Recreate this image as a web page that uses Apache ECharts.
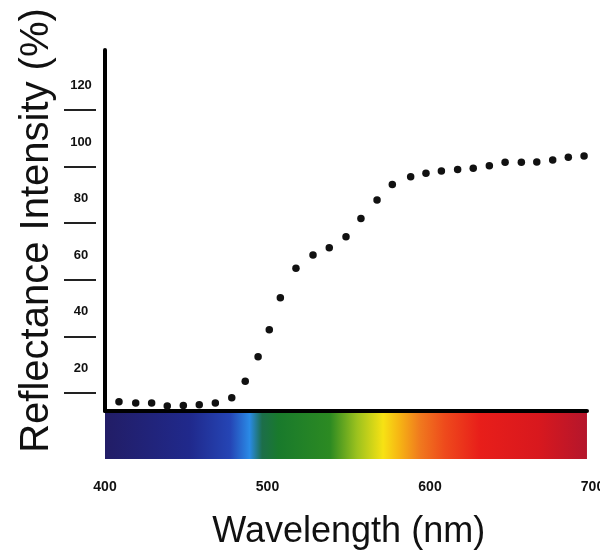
<!DOCTYPE html>
<html>
<head>
<meta charset="utf-8">
<script src="https://cdn.jsdelivr.net/npm/echarts@6/dist/echarts.min.js"></script>
<style>
  html, body { margin: 0; padding: 0; background: #fff; }
  #chart { width: 600px; height: 552px; }
</style>
</head>
<body>
<div id="chart"></div>
<script>
// wavelength (nm) of each measured point
const wavelengths = [408.6, 418.9, 428.7, 438.3, 448.2, 458.0, 467.9, 478.0, 486.3, 494.2,
  501.1, 507.9, 517.5, 528.0, 538.0, 548.3, 557.5, 567.4, 576.8, 588.1,
  597.5, 607.0, 617.0, 626.6, 636.5, 646.2, 656.2, 665.7, 675.5, 685.1, 694.8];
// reflectance intensity (%)
const reflectance = [16.9, 16.4, 16.4, 15.4, 15.5, 15.8, 16.4, 18.3, 24.1, 32.8,
  42.3, 53.6, 64.1, 68.7, 71.3, 75.2, 81.6, 88.2, 93.7, 96.4,
  97.6, 98.4, 99.0, 99.4, 100.3, 101.5, 101.5, 101.6, 102.3, 103.3, 103.7];
const yTicks = [20, 40, 60, 80, 100, 120];
const xTicks = [400, 500, 600, 700];
const spectrumRange = [400, 696.6];

const points = wavelengths.map((w, i) => [w, reflectance[i]]);

const chart = echarts.init(document.getElementById('chart'));

const option = {
  backgroundColor: '#fff',
  animation: false,
  grid: [
    { left: 105, top: 50, right: 13, bottom: 141, outerBoundsMode: 'none' },
    { left: 105, top: 413, right: 7.5, height: 46, outerBoundsMode: 'none' }
  ],
  xAxis: [
    {
      gridIndex: 0, type: 'value', min: 400, max: 696.6,
      axisLine: { onZero: false, lineStyle: { color: '#000', width: 4 } },
      axisTick: { show: false },
      axisLabel: { show: false },
      splitLine: { show: false }
    },
    {
      gridIndex: 1, type: 'value', min: 400, max: 700,
      axisLine: { show: false },
      axisTick: { show: false },
      splitLine: { show: false },
      axisLabel: {
        customValues: xTicks,
        margin: 21,
        color: '#111',
        fontWeight: 'bold',
        fontSize: 14,
        fontFamily: 'Liberation Sans, Arial, sans-serif'
      },
      name: 'Wavelength (nm)',
      nameLocation: 'middle',
      nameGap: 55,
      nameTextStyle: {
        color: '#111',
        fontSize: 36,
        fontFamily: 'Liberation Sans, Arial, sans-serif'
      }
    }
  ],
  yAxis: [
    {
      gridIndex: 0, type: 'value', min: 13.6, max: 141.2,
      axisLine: { show: true, lineStyle: { color: '#000', width: 4 } },
      axisTick: { show: false },
      splitLine: { show: false },
      axisLabel: {
        customValues: yTicks,
        align: 'center',
        verticalAlign: 'bottom',
        padding: [0, 0, 18, 0],
        margin: 24,
        color: '#111',
        fontWeight: 'bold',
        fontSize: 13,
        fontFamily: 'Liberation Sans, Arial, sans-serif'
      },
      name: 'Reflectance Intensity (%)',
      nameLocation: 'middle',
      nameGap: 48,
      nameTextStyle: {
        color: '#111',
        fontSize: 40,
        fontFamily: 'Liberation Sans, Arial, sans-serif'
      }
    },
    {
      // the short dashes, set off from the axis line
      gridIndex: 0, type: 'value', min: 13.6, max: 141.2,
      position: 'left', offset: 9,
      axisLine: { show: false },
      axisLabel: { show: false },
      splitLine: { show: false },
      axisTick: {
        show: true,
        customValues: yTicks,
        length: 32,
        lineStyle: { color: '#222', width: 2 }
      }
    },
    {
      gridIndex: 1, type: 'value', min: 0, max: 1, show: false
    }
  ],
  series: [
    {
      name: 'Reflectance',
      type: 'scatter',
      xAxisIndex: 0,
      yAxisIndex: 0,
      symbol: 'circle',
      symbolSize: 7.5,
      itemStyle: { color: '#111', opacity: 1 },
      data: points
    },
    {
      name: 'Spectrum',
      type: 'line',
      xAxisIndex: 1,
      yAxisIndex: 2,
      data: [],
      silent: true,
      markArea: {
        silent: true,
        itemStyle: {
          color: new echarts.graphic.LinearGradient(0, 0, 1, 0, [
            { offset: 0, color: '#221d66' },
            { offset: 0.176, color: '#20298c' },
            { offset: 0.26, color: '#2545b5' },
            { offset: 0.30, color: '#2a8ae6' },
            { offset: 0.326, color: '#1c6e4a' },
            { offset: 0.36, color: '#197a2c' },
            { offset: 0.467, color: '#2c8a22' },
            { offset: 0.523, color: '#9cc21e' },
            { offset: 0.577, color: '#f7e214' },
            { offset: 0.612, color: '#f6b314' },
            { offset: 0.653, color: '#f07a1e' },
            { offset: 0.705, color: '#ee4a1c' },
            { offset: 0.778, color: '#e81e1a' },
            { offset: 0.9, color: '#d8181e' },
            { offset: 1, color: '#b4162c' }
          ])
        },
        data: [[{ xAxis: spectrumRange[0] }, { xAxis: spectrumRange[1] }]]
      }
    }
  ]
};

option && chart.setOption(option);
</script>
</body>
</html>
